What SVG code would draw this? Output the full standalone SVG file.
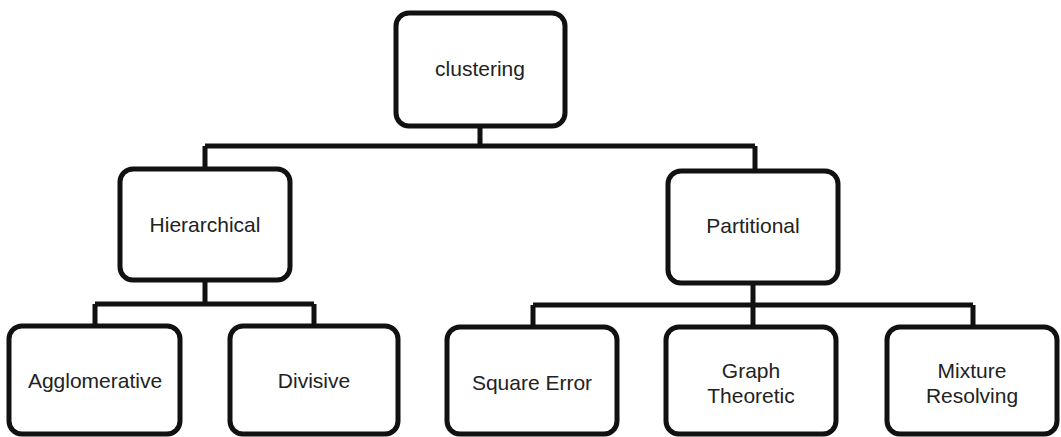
<svg xmlns="http://www.w3.org/2000/svg" width="1061" height="437" viewBox="0 0 1061 437">
  <style>
    .box { fill: #ffffff; stroke: #111111; stroke-width: 5; }
    .link { fill: none; stroke: #111111; stroke-width: 5; stroke-linejoin: miter; }
    .label { font-family: "Liberation Sans", Arial, sans-serif; font-size: 21px; fill: #222222; text-anchor: middle; }
  </style>
  <rect width="1061" height="437" fill="#ffffff"/>

  <!-- tree connectors -->
  <g id="connectors">
    <path class="link" d="M480 126 V146 M205 146 H755 M205 146 V169 M755 146 V171"/>
    <path class="link" d="M205 280 V304 M95 304 H314 M95 304 V326 M314 304 V326"/>
    <path class="link" d="M753 283 V305 M533 305 H973 M533 305 V327 M753 305 V327 M973 305 V327"/>
  </g>

  <g id="clustering">
    <rect class="box" x="396" y="13" width="169" height="113" rx="13"/>
    <text class="label" x="480" y="76">clustering</text>
  </g>

  <g id="hierarchical">
    <rect class="box" x="120" y="169" width="170" height="111" rx="13"/>
    <text class="label" x="205" y="232">Hierarchical</text>
  </g>

  <g id="partitional">
    <rect class="box" x="668" y="171" width="170" height="112" rx="13"/>
    <text class="label" x="753" y="233">Partitional</text>
  </g>

  <g id="agglomerative">
    <rect class="box" x="9" y="326" width="171" height="108" rx="13"/>
    <text class="label" x="95" y="388">Agglomerative</text>
  </g>

  <g id="divisive">
    <rect class="box" x="230" y="326" width="168" height="108" rx="13"/>
    <text class="label" x="314" y="388">Divisive</text>
  </g>

  <g id="square-error">
    <rect class="box" x="447" y="327" width="170" height="107" rx="13"/>
    <text class="label" x="532" y="390">Square Error</text>
  </g>

  <g id="graph-theoretic">
    <rect class="box" x="666" y="327" width="170" height="107" rx="13"/>
    <text class="label" x="751" y="378">Graph</text>
    <text class="label" x="751" y="403">Theoretic</text>
  </g>

  <g id="mixture-resolving">
    <rect class="box" x="887" y="327" width="170" height="107" rx="13"/>
    <text class="label" x="972" y="378">Mixture</text>
    <text class="label" x="972" y="403">Resolving</text>
  </g>
</svg>
